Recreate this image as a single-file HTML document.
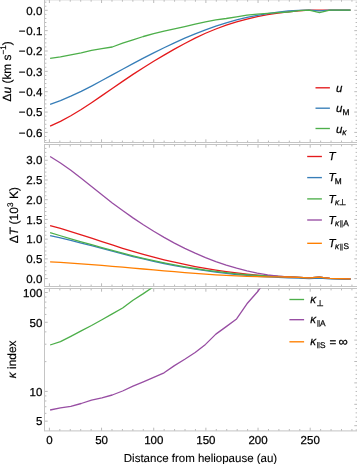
<!DOCTYPE html>
<html><head><meta charset="utf-8"><style>
html,body{margin:0;padding:0;background:#fff;}
svg{display:block;font-family:"Liberation Sans",sans-serif;will-change:transform;text-rendering:geometricPrecision;}
text{stroke:#000;stroke-width:0.25px;}
.al{stroke-width:0.1px;}
.rl{stroke-width:0.18px;}
</style></head><body>
<svg width="357" height="464" viewBox="0 0 357 464">
<rect width="357" height="464" fill="#fff"/>
<defs>
<clipPath id="c0"><rect x="44.5" y="-0.2" width="313.0" height="142.7"/></clipPath>
<clipPath id="c1"><rect x="44.5" y="144.5" width="313.0" height="142.0"/></clipPath>
<clipPath id="c2"><rect x="44.5" y="288.5" width="313.0" height="142.39999999999998"/></clipPath>
</defs>
<path d="M49.40 142.50V139.30 M49.40 -0.20V3.00 M59.83 142.50V140.60 M59.83 -0.20V1.70 M70.26 142.50V140.60 M70.26 -0.20V1.70 M80.70 142.50V140.60 M80.70 -0.20V1.70 M91.13 142.50V140.60 M91.13 -0.20V1.70 M101.56 142.50V139.30 M101.56 -0.20V3.00 M111.99 142.50V140.60 M111.99 -0.20V1.70 M122.42 142.50V140.60 M122.42 -0.20V1.70 M132.86 142.50V140.60 M132.86 -0.20V1.70 M143.29 142.50V140.60 M143.29 -0.20V1.70 M153.72 142.50V139.30 M153.72 -0.20V3.00 M164.15 142.50V140.60 M164.15 -0.20V1.70 M174.58 142.50V140.60 M174.58 -0.20V1.70 M185.02 142.50V140.60 M185.02 -0.20V1.70 M195.45 142.50V140.60 M195.45 -0.20V1.70 M205.88 142.50V139.30 M205.88 -0.20V3.00 M216.31 142.50V140.60 M216.31 -0.20V1.70 M226.74 142.50V140.60 M226.74 -0.20V1.70 M237.18 142.50V140.60 M237.18 -0.20V1.70 M247.61 142.50V140.60 M247.61 -0.20V1.70 M258.04 142.50V139.30 M258.04 -0.20V3.00 M268.47 142.50V140.60 M268.47 -0.20V1.70 M278.90 142.50V140.60 M278.90 -0.20V1.70 M289.34 142.50V140.60 M289.34 -0.20V1.70 M299.77 142.50V140.60 M299.77 -0.20V1.70 M310.20 142.50V139.30 M310.20 -0.20V3.00 M320.63 142.50V140.60 M320.63 -0.20V1.70 M331.06 142.50V140.60 M331.06 -0.20V1.70 M341.50 142.50V140.60 M341.50 -0.20V1.70 M351.93 142.50V140.60 M351.93 -0.20V1.70 M49.40 286.50V283.30 M49.40 144.50V147.70 M59.83 286.50V284.60 M59.83 144.50V146.40 M70.26 286.50V284.60 M70.26 144.50V146.40 M80.70 286.50V284.60 M80.70 144.50V146.40 M91.13 286.50V284.60 M91.13 144.50V146.40 M101.56 286.50V283.30 M101.56 144.50V147.70 M111.99 286.50V284.60 M111.99 144.50V146.40 M122.42 286.50V284.60 M122.42 144.50V146.40 M132.86 286.50V284.60 M132.86 144.50V146.40 M143.29 286.50V284.60 M143.29 144.50V146.40 M153.72 286.50V283.30 M153.72 144.50V147.70 M164.15 286.50V284.60 M164.15 144.50V146.40 M174.58 286.50V284.60 M174.58 144.50V146.40 M185.02 286.50V284.60 M185.02 144.50V146.40 M195.45 286.50V284.60 M195.45 144.50V146.40 M205.88 286.50V283.30 M205.88 144.50V147.70 M216.31 286.50V284.60 M216.31 144.50V146.40 M226.74 286.50V284.60 M226.74 144.50V146.40 M237.18 286.50V284.60 M237.18 144.50V146.40 M247.61 286.50V284.60 M247.61 144.50V146.40 M258.04 286.50V283.30 M258.04 144.50V147.70 M268.47 286.50V284.60 M268.47 144.50V146.40 M278.90 286.50V284.60 M278.90 144.50V146.40 M289.34 286.50V284.60 M289.34 144.50V146.40 M299.77 286.50V284.60 M299.77 144.50V146.40 M310.20 286.50V283.30 M310.20 144.50V147.70 M320.63 286.50V284.60 M320.63 144.50V146.40 M331.06 286.50V284.60 M331.06 144.50V146.40 M341.50 286.50V284.60 M341.50 144.50V146.40 M351.93 286.50V284.60 M351.93 144.50V146.40 M49.40 430.90V427.70 M49.40 288.50V291.70 M59.83 430.90V429.00 M59.83 288.50V290.40 M70.26 430.90V429.00 M70.26 288.50V290.40 M80.70 430.90V429.00 M80.70 288.50V290.40 M91.13 430.90V429.00 M91.13 288.50V290.40 M101.56 430.90V427.70 M101.56 288.50V291.70 M111.99 430.90V429.00 M111.99 288.50V290.40 M122.42 430.90V429.00 M122.42 288.50V290.40 M132.86 430.90V429.00 M132.86 288.50V290.40 M143.29 430.90V429.00 M143.29 288.50V290.40 M153.72 430.90V427.70 M153.72 288.50V291.70 M164.15 430.90V429.00 M164.15 288.50V290.40 M174.58 430.90V429.00 M174.58 288.50V290.40 M185.02 430.90V429.00 M185.02 288.50V290.40 M195.45 430.90V429.00 M195.45 288.50V290.40 M205.88 430.90V427.70 M205.88 288.50V291.70 M216.31 430.90V429.00 M216.31 288.50V290.40 M226.74 430.90V429.00 M226.74 288.50V290.40 M237.18 430.90V429.00 M237.18 288.50V290.40 M247.61 430.90V429.00 M247.61 288.50V290.40 M258.04 430.90V427.70 M258.04 288.50V291.70 M268.47 430.90V429.00 M268.47 288.50V290.40 M278.90 430.90V429.00 M278.90 288.50V290.40 M289.34 430.90V429.00 M289.34 288.50V290.40 M299.77 430.90V429.00 M299.77 288.50V290.40 M310.20 430.90V427.70 M310.20 288.50V291.70 M320.63 430.90V429.00 M320.63 288.50V290.40 M331.06 430.90V429.00 M331.06 288.50V290.40 M341.50 430.90V429.00 M341.50 288.50V290.40 M351.93 430.90V429.00 M351.93 288.50V290.40 M44.50 140.54H46.40 M357.50 140.54H355.60 M44.50 136.47H46.40 M357.50 136.47H355.60 M44.50 132.40H47.70 M357.50 132.40H354.30 M44.50 128.33H46.40 M357.50 128.33H355.60 M44.50 124.26H46.40 M357.50 124.26H355.60 M44.50 120.19H46.40 M357.50 120.19H355.60 M44.50 116.12H46.40 M357.50 116.12H355.60 M44.50 112.05H47.70 M357.50 112.05H354.30 M44.50 107.98H46.40 M357.50 107.98H355.60 M44.50 103.91H46.40 M357.50 103.91H355.60 M44.50 99.84H46.40 M357.50 99.84H355.60 M44.50 95.77H46.40 M357.50 95.77H355.60 M44.50 91.70H47.70 M357.50 91.70H354.30 M44.50 87.63H46.40 M357.50 87.63H355.60 M44.50 83.56H46.40 M357.50 83.56H355.60 M44.50 79.49H46.40 M357.50 79.49H355.60 M44.50 75.42H46.40 M357.50 75.42H355.60 M44.50 71.35H47.70 M357.50 71.35H354.30 M44.50 67.28H46.40 M357.50 67.28H355.60 M44.50 63.21H46.40 M357.50 63.21H355.60 M44.50 59.14H46.40 M357.50 59.14H355.60 M44.50 55.07H46.40 M357.50 55.07H355.60 M44.50 51.00H47.70 M357.50 51.00H354.30 M44.50 46.93H46.40 M357.50 46.93H355.60 M44.50 42.86H46.40 M357.50 42.86H355.60 M44.50 38.79H46.40 M357.50 38.79H355.60 M44.50 34.72H46.40 M357.50 34.72H355.60 M44.50 30.65H47.70 M357.50 30.65H354.30 M44.50 26.58H46.40 M357.50 26.58H355.60 M44.50 22.51H46.40 M357.50 22.51H355.60 M44.50 18.44H46.40 M357.50 18.44H355.60 M44.50 14.37H46.40 M357.50 14.37H355.60 M44.50 10.30H47.70 M357.50 10.30H354.30 M44.50 6.23H46.40 M357.50 6.23H355.60 M44.50 2.16H46.40 M357.50 2.16H355.60 M44.50 278.60H47.70 M357.50 278.60H354.30 M44.50 274.66H46.40 M357.50 274.66H355.60 M44.50 270.71H46.40 M357.50 270.71H355.60 M44.50 266.77H46.40 M357.50 266.77H355.60 M44.50 262.82H46.40 M357.50 262.82H355.60 M44.50 258.88H47.70 M357.50 258.88H354.30 M44.50 254.93H46.40 M357.50 254.93H355.60 M44.50 250.99H46.40 M357.50 250.99H355.60 M44.50 247.04H46.40 M357.50 247.04H355.60 M44.50 243.10H46.40 M357.50 243.10H355.60 M44.50 239.15H47.70 M357.50 239.15H354.30 M44.50 235.21H46.40 M357.50 235.21H355.60 M44.50 231.26H46.40 M357.50 231.26H355.60 M44.50 227.32H46.40 M357.50 227.32H355.60 M44.50 223.37H46.40 M357.50 223.37H355.60 M44.50 219.43H47.70 M357.50 219.43H354.30 M44.50 215.48H46.40 M357.50 215.48H355.60 M44.50 211.54H46.40 M357.50 211.54H355.60 M44.50 207.59H46.40 M357.50 207.59H355.60 M44.50 203.65H46.40 M357.50 203.65H355.60 M44.50 199.70H47.70 M357.50 199.70H354.30 M44.50 195.75H46.40 M357.50 195.75H355.60 M44.50 191.81H46.40 M357.50 191.81H355.60 M44.50 187.87H46.40 M357.50 187.87H355.60 M44.50 183.92H46.40 M357.50 183.92H355.60 M44.50 179.98H47.70 M357.50 179.98H354.30 M44.50 176.03H46.40 M357.50 176.03H355.60 M44.50 172.09H46.40 M357.50 172.09H355.60 M44.50 168.14H46.40 M357.50 168.14H355.60 M44.50 164.19H46.40 M357.50 164.19H355.60 M44.50 160.25H47.70 M357.50 160.25H354.30 M44.50 156.31H46.40 M357.50 156.31H355.60 M44.50 152.36H46.40 M357.50 152.36H355.60 M44.50 148.41H46.40 M357.50 148.41H355.60 M44.50 421.17H47.70 M44.50 413.34H46.40 M44.50 406.72H46.40 M44.50 400.98H46.40 M44.50 395.93H46.40 M44.50 391.40H47.70 M44.50 361.63H46.40 M44.50 344.21H46.40 M44.50 331.86H46.40 M44.50 322.27H47.70 M44.50 314.44H46.40 M44.50 307.82H46.40 M44.50 302.08H46.40 M44.50 297.03H46.40 M44.50 292.50H47.70 M357.50 293.02H355.60 M357.50 297.30H354.30 M357.50 301.58H355.60 M357.50 305.86H355.60 M357.50 310.14H355.60 M357.50 314.42H355.60 M357.50 318.70H354.30 M357.50 322.98H355.60 M357.50 327.26H355.60 M357.50 331.54H355.60 M357.50 335.82H355.60 M357.50 340.10H354.30 M357.50 344.38H355.60 M357.50 348.66H355.60 M357.50 352.94H355.60 M357.50 357.22H355.60 M357.50 361.50H354.30 M357.50 365.78H355.60 M357.50 370.06H355.60 M357.50 374.34H355.60 M357.50 378.62H355.60 M357.50 382.90H354.30 M357.50 387.18H355.60 M357.50 391.46H355.60 M357.50 395.74H355.60 M357.50 400.02H355.60 M357.50 404.30H354.30 M357.50 408.58H355.60 M357.50 412.86H355.60 M357.50 417.14H355.60 M357.50 421.42H355.60 M357.50 425.70H354.30 M357.50 429.98H355.60" stroke="#bababa" stroke-width="1" fill="none"/>
<rect x="44.5" y="-0.2" width="313.0" height="142.7" fill="none" stroke="#c4c4c4" stroke-width="1"/>
<rect x="44.5" y="144.5" width="313.0" height="142.0" fill="none" stroke="#c4c4c4" stroke-width="1"/>
<rect x="44.5" y="288.5" width="313.0" height="142.39999999999998" fill="none" stroke="#c4c4c4" stroke-width="1"/>
<polyline points="50.10,126.04 60.46,121.33 70.82,115.73 81.18,109.44 91.54,102.67 101.90,95.61 112.26,88.46 122.62,81.37 132.98,74.41 143.34,67.67 153.70,61.23 164.06,55.09 174.42,49.18 184.78,43.48 195.14,38.11 205.50,33.25 215.86,29.00 226.22,25.23 236.58,21.91 246.94,19.07 257.30,16.67 267.66,14.69 278.02,13.08 288.38,11.78 298.74,10.77 309.10,10.10 319.46,10.10 329.82,10.10 340.18,10.10 350.54,10.10" fill="none" stroke="#e41a1c" stroke-width="1.3" stroke-linejoin="round" clip-path="url(#c0)"/>
<polyline points="50.10,104.41 60.46,100.61 70.82,96.21 81.18,91.31 91.54,86.05 101.90,80.53 112.26,74.88 122.62,69.22 132.98,63.64 143.34,58.16 153.70,52.85 164.06,47.72 174.42,42.83 184.78,38.21 195.14,33.87 205.50,29.86 215.86,26.18 226.22,22.87 236.58,19.95 246.94,17.44 257.30,15.33 267.66,13.57 278.02,12.08 288.38,10.95 298.74,10.33 309.10,10.10 319.46,10.80 329.82,10.10 340.18,10.10 350.54,10.10" fill="none" stroke="#377eb8" stroke-width="1.3" stroke-linejoin="round" clip-path="url(#c0)"/>
<polyline points="50.10,58.30 60.46,56.80 70.82,54.80 81.18,52.80 91.54,50.40 101.90,48.60 112.26,47.00 122.62,43.20 132.98,39.80 143.34,36.50 153.70,33.70 164.06,31.10 174.42,28.90 184.78,26.60 195.14,24.10 205.50,21.80 215.86,19.90 226.22,18.50 236.58,16.80 246.94,15.10 257.30,14.20 267.66,13.30 278.02,12.70 288.38,12.00 298.74,10.70 309.10,10.20 319.46,12.60 329.82,10.10 340.18,10.10 350.54,10.10" fill="none" stroke="#4daf4a" stroke-width="1.3" stroke-linejoin="round" clip-path="url(#c0)"/>
<polyline points="50.10,225.58 60.46,228.42 70.82,231.52 81.18,234.80 91.54,238.20 101.90,241.61 112.26,244.98 122.62,248.26 132.98,251.40 143.34,254.37 153.70,257.16 164.06,259.77 174.42,262.21 184.78,264.46 195.14,266.53 205.50,268.42 215.86,270.12 226.22,271.64 236.58,272.98 246.94,274.13 257.30,275.10 267.66,275.88 278.02,276.48 288.38,277.00 298.74,277.40 309.10,277.90 319.46,277.20 329.82,278.30 340.18,278.70 350.54,278.90" fill="none" stroke="#e41a1c" stroke-width="1.3" stroke-linejoin="round" clip-path="url(#c1)"/>
<polyline points="50.10,235.69 60.46,237.96 70.82,240.42 81.18,243.02 91.54,245.71 101.90,248.46 112.26,251.20 122.62,253.90 132.98,256.51 143.34,258.99 153.70,261.32 164.06,263.50 174.42,265.53 184.78,267.42 195.14,269.15 205.50,270.73 215.86,272.15 226.22,273.42 236.58,274.52 246.94,275.47 257.30,276.25 267.66,276.86 278.02,277.31 288.38,277.90 298.74,278.10 309.10,278.50 319.46,278.00 329.82,278.90 340.18,279.20 350.54,279.40" fill="none" stroke="#377eb8" stroke-width="1.3" stroke-linejoin="round" clip-path="url(#c1)"/>
<polyline points="50.10,232.72 60.46,235.75 70.82,238.78 81.18,241.78 91.54,244.74 101.90,247.65 112.26,250.47 122.62,253.21 132.98,255.82 143.34,258.31 153.70,260.66 164.06,262.85 174.42,264.88 184.78,266.77 195.14,268.49 205.50,270.06 215.86,271.47 226.22,272.71 236.58,273.79 246.94,274.71 257.30,275.45 267.66,276.02 278.02,276.42 288.38,277.00 298.74,277.40 309.10,277.90 319.46,277.20 329.82,278.30 340.18,278.70 350.54,278.90" fill="none" stroke="#4daf4a" stroke-width="1.3" stroke-linejoin="round" clip-path="url(#c1)"/>
<polyline points="50.10,156.52 60.46,162.96 70.82,170.31 81.18,178.26 91.54,186.54 101.90,194.85 112.26,202.91 122.62,210.59 132.98,217.89 143.34,224.80 153.70,231.30 164.06,237.40 174.42,243.07 184.78,248.33 195.14,253.16 205.50,257.57 215.86,261.54 226.22,265.09 236.58,268.20 246.94,270.87 257.30,273.10 267.66,274.88 278.02,276.22 288.38,277.00 298.74,277.40 309.10,277.90 319.46,277.20 329.82,278.30 340.18,278.70 350.54,278.90" fill="none" stroke="#984ea3" stroke-width="1.3" stroke-linejoin="round" clip-path="url(#c1)"/>
<polyline points="50.10,261.88 60.46,262.45 70.82,263.09 81.18,263.81 91.54,264.59 101.90,265.42 112.26,266.28 122.62,267.18 132.98,268.09 143.34,269.02 153.70,269.93 164.06,270.84 174.42,271.72 184.78,272.56 195.14,273.36 205.50,274.11 215.86,274.78 226.22,275.38 236.58,275.89 246.94,276.30 257.30,276.60 267.66,276.78 278.02,276.83 288.38,277.00 298.74,277.40 309.10,277.90 319.46,277.20 329.82,278.30 340.18,278.70 350.54,278.90" fill="none" stroke="#ff7f00" stroke-width="1.3" stroke-linejoin="round" clip-path="url(#c1)"/>
<polyline points="50.10,345.00 60.46,341.70 70.82,336.40 81.18,330.90 91.54,325.50 101.90,319.70 112.26,313.90 122.62,308.00 132.98,300.20 143.34,293.60 153.70,286.60" fill="none" stroke="#4daf4a" stroke-width="1.3" stroke-linejoin="round" clip-path="url(#c2)"/>
<polyline points="50.10,410.00 60.46,407.80 70.82,406.30 81.18,403.50 91.54,400.20 101.90,397.80 112.26,395.00 122.62,391.00 132.98,386.10 143.34,381.80 153.70,377.40 164.06,372.80 174.42,365.60 184.78,359.30 195.14,352.50 205.50,344.40 215.86,334.10 226.22,326.60 236.58,318.90 246.94,303.80 257.30,292.00 267.66,278.00" fill="none" stroke="#984ea3" stroke-width="1.3" stroke-linejoin="round" clip-path="url(#c2)"/>
<text x="42.30" y="14.50" text-anchor="end" font-size="11.5" >0.0</text>
<text x="42.30" y="34.85" text-anchor="end" font-size="11.5" >−<tspan dx="0.9">0.1</tspan></text>
<text x="42.30" y="55.20" text-anchor="end" font-size="11.5" >−<tspan dx="0.9">0.2</tspan></text>
<text x="42.30" y="75.55" text-anchor="end" font-size="11.5" >−<tspan dx="0.9">0.3</tspan></text>
<text x="42.30" y="95.90" text-anchor="end" font-size="11.5" >−<tspan dx="0.9">0.4</tspan></text>
<text x="42.30" y="116.25" text-anchor="end" font-size="11.5" >−<tspan dx="0.9">0.5</tspan></text>
<text x="42.30" y="136.60" text-anchor="end" font-size="11.5" >−<tspan dx="0.9">0.6</tspan></text>
<text x="42.30" y="282.80" text-anchor="end" font-size="11.5" >0.0</text>
<text x="42.30" y="263.07" text-anchor="end" font-size="11.5" >0.5</text>
<text x="42.30" y="243.35" text-anchor="end" font-size="11.5" >1.0</text>
<text x="42.30" y="223.62" text-anchor="end" font-size="11.5" >1.5</text>
<text x="42.30" y="203.90" text-anchor="end" font-size="11.5" >2.0</text>
<text x="42.30" y="184.18" text-anchor="end" font-size="11.5" >2.5</text>
<text x="42.30" y="164.45" text-anchor="end" font-size="11.5" >3.0</text>
<text x="42.30" y="425.47" text-anchor="end" font-size="11.5" >5</text>
<text x="42.30" y="395.70" text-anchor="end" font-size="11.5" >10</text>
<text x="42.30" y="326.57" text-anchor="end" font-size="11.5" >50</text>
<text x="42.30" y="296.80" text-anchor="end" font-size="11.5" >100</text>
<text x="49.40" y="443.50" text-anchor="middle" font-size="11.5" >0</text>
<text x="101.56" y="443.50" text-anchor="middle" font-size="11.5" >50</text>
<text x="153.72" y="443.50" text-anchor="middle" font-size="11.5" >100</text>
<text x="205.88" y="443.50" text-anchor="middle" font-size="11.5" >150</text>
<text x="258.04" y="443.50" text-anchor="middle" font-size="11.5" >200</text>
<text x="310.20" y="443.50" text-anchor="middle" font-size="11.5" >250</text>
<text class="al" x="200.5" y="461.6" text-anchor="middle" font-size="11.5">Distance from heliopause (au)</text>
<text class="rl" transform="translate(10.7,71.3) rotate(-90)" text-anchor="middle" font-size="11.9">Δ<tspan font-style="italic">u</tspan> (km s<tspan font-size="8.2" dy="-5">−1</tspan><tspan dy="5">)</tspan></text>
<text class="rl" transform="translate(18.3,215.1) rotate(-90)" text-anchor="middle" font-size="12.1">Δ<tspan font-style="italic">T</tspan> (10<tspan font-size="8.2" dy="-5">3</tspan><tspan dy="5"> K)</tspan></text>
<text class="rl" transform="translate(15.8,359.3) rotate(-90)" text-anchor="middle" font-size="11.9"><tspan font-style="italic">κ</tspan> index</text>
<path d="M315.5 87.8H329.9" stroke="#e41a1c" stroke-width="1.35"/>
<path d="M315.5 108.2H329.9" stroke="#377eb8" stroke-width="1.35"/>
<path d="M315.5 128.5H329.9" stroke="#4daf4a" stroke-width="1.35"/>
<text x="335.9" y="91.9" font-size="11.5" font-style="italic">u</text>
<text x="335.9" y="112.3" font-size="11.5" font-style="italic">u</text>
<text x="342.4" y="114.6" font-size="8.3">M</text>
<text x="335.9" y="132.6" font-size="11.5" font-style="italic">u</text>
<text x="342.2" y="134.8" font-size="8.3" font-style="italic">κ</text>
<path d="M307.2 156.5H321.9" stroke="#e41a1c" stroke-width="1.35"/>
<path d="M307.2 177.6H321.9" stroke="#377eb8" stroke-width="1.35"/>
<path d="M307.2 198.9H321.9" stroke="#4daf4a" stroke-width="1.35"/>
<path d="M307.2 220.0H321.9" stroke="#984ea3" stroke-width="1.35"/>
<path d="M307.2 243.3H321.9" stroke="#ff7f00" stroke-width="1.35"/>
<text x="328.6" y="160.1" font-size="11.5" font-style="italic">T</text>
<text x="328.6" y="181.2" font-size="11.5" font-style="italic">T</text>
<text x="328.6" y="202.5" font-size="11.5" font-style="italic">T</text>
<text x="328.6" y="223.6" font-size="11.5" font-style="italic">T</text>
<text x="328.6" y="246.9" font-size="11.5" font-style="italic">T</text>
<text x="334.7" y="183.7" font-size="8.3">M</text>
<text x="334.9" y="204.9" font-size="8.3" font-style="italic">κ</text>
<text x="339.0" y="204.9" font-size="8.3">⊥</text>
<text x="334.9" y="226.0" font-size="8.3" font-style="italic">κ</text>
<rect x="340.20" y="220.20" width="1.05" height="7.30" fill="#3a3a3a"/><rect x="341.60" y="220.20" width="1.05" height="7.30" fill="#3a3a3a"/>
<text x="343.3" y="226.0" font-size="8.3">A</text>
<text x="334.9" y="249.3" font-size="8.3" font-style="italic">κ</text>
<rect x="340.20" y="243.70" width="1.05" height="6.90" fill="#3a3a3a"/><rect x="341.60" y="243.70" width="1.05" height="6.90" fill="#3a3a3a"/>
<text x="343.5" y="249.3" font-size="8.3">S</text>
<path d="M289.4 299.5H304.1" stroke="#4daf4a" stroke-width="1.35"/>
<path d="M289.4 319.7H304.1" stroke="#984ea3" stroke-width="1.35"/>
<path d="M289.4 341.8H304.1" stroke="#ff7f00" stroke-width="1.35"/>
<text x="310.2" y="303.1" font-size="11.5" font-style="italic">κ</text>
<text x="310.2" y="323.3" font-size="11.5" font-style="italic">κ</text>
<text x="310.2" y="345.40000000000003" font-size="11.5" font-style="italic">κ</text>
<text x="316.6" y="305.5" font-size="8.3">⊥</text>
<rect x="317.30" y="320.10" width="1.05" height="6.70" fill="#3a3a3a"/><rect x="318.70" y="320.10" width="1.05" height="6.70" fill="#3a3a3a"/>
<text x="320.0" y="325.7" font-size="8.3">A</text>
<rect x="317.10" y="342.00" width="1.05" height="6.30" fill="#3a3a3a"/><rect x="318.50" y="342.00" width="1.05" height="6.30" fill="#3a3a3a"/>
<text x="319.9" y="347.8" font-size="8.3">S</text>
<text x="329.6" y="346.2" font-size="11.5">=</text>
<text x="338.4" y="346.40000000000003" font-size="13">∞</text>
</svg></body></html>
